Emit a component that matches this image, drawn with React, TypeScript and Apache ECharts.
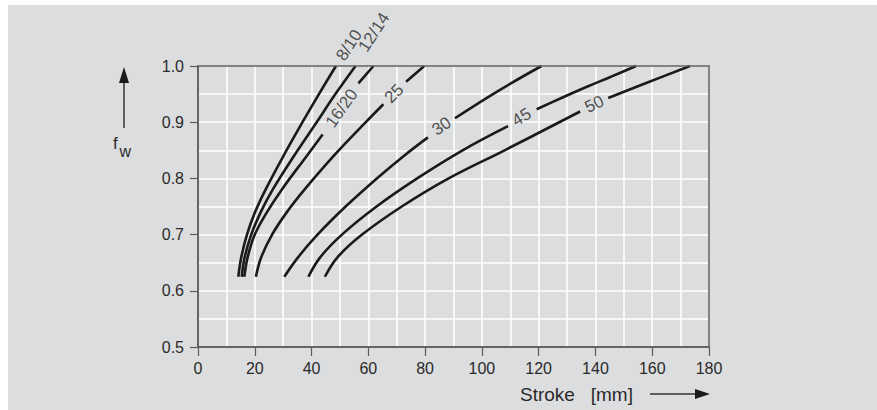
import React, { useEffect, useRef } from 'react';
import * as echarts from 'echarts';

// Stroke [mm] vs f_w
const curve8_10 = [[14.2, 0.625], [15.25, 0.66], [17.25, 0.7], [20.1, 0.74], [23.8, 0.78], [30.1, 0.84], [36.8, 0.9], [42.6, 0.95], [48.6, 1.0]];
const curve12_14 = [[15.4, 0.625], [16.45, 0.66], [18.75, 0.7], [22.1, 0.74], [26.3, 0.78], [33.8, 0.84], [41.8, 0.9], [48.4, 0.95], [55.5, 1.0]];
const curve16_20Low = [[16.3, 0.625], [17.5, 0.66], [20.0, 0.7], [24.3, 0.74], [29.5, 0.78], [38.3, 0.84], [43.9, 0.878]];
const curve16_20High = [[56.5, 0.969], [61.8, 1.0]];
const curve25Low = [[20.4, 0.625], [22.3, 0.66], [26.1, 0.7], [31.3, 0.74], [37.5, 0.78], [47.8, 0.84], [59.1, 0.9], [65.3, 0.932]];
const curve25High = [[73.3, 0.972], [79.7, 1.0]];
const curve30Low = [[30.4, 0.625], [35.3, 0.66], [42.1, 0.7], [52, 0.75], [63, 0.8], [72.5, 0.84], [81, 0.873]];
const curve30High = [[90.5, 0.907], [105.5, 0.955], [121, 1.0]];
const curve45Low = [[38.9, 0.625], [43.1, 0.66], [50.7, 0.7], [62.9, 0.75], [77.2, 0.8], [93.2, 0.85], [109.2, 0.893]];
const curve45High = [[119.3, 0.923], [128, 0.943], [137, 0.963], [145.5, 0.981], [154.3, 1.0]];
const curve50Low = [[44.7, 0.625], [49.2, 0.66], [57.8, 0.7], [71.8, 0.75], [88.3, 0.8], [108, 0.85], [134.6, 0.919]];
const curve50High = [[144.5, 0.943], [159, 0.972], [173.3, 1.0]];

// curve labels and where they sit (data coordinates) with their slope
const labelNames = ['8/10', '12/14', '16/20', '25', '30', '45', '50'];
const labelX = [53.2, 62.0, 50.6, 69.1, 85.8, 114, 139.6];
const labelY = [1.037, 1.06, 0.925, 0.951, 0.893, 0.909, 0.932];
const labelAngle = [57, 57, 55, 45, 35, 31, 26];

const segments = [
  curve8_10, curve12_14, curve16_20Low, curve16_20High, curve25Low, curve25High,
  curve30Low, curve30High, curve45Low, curve45High, curve50Low, curve50High,
];

const xMin = 0, xMax = 180, xStep = 20;
const yMin = 0.5, yMax = 1.0, yStep = 0.1;

export default function App() {
  const ref = useRef<HTMLDivElement>(null);
  useEffect(() => {
    if (!ref.current) return;
    const chart = echarts.init(ref.current, null, { renderer: 'svg' });
    const font = '"Liberation Sans", Arial, Helvetica, sans-serif';
    const axisColor = '#5c5c5c';
    const textColor = '#2a2a2a';
    const gridL = 198, gridT = 66, gridW = 511, gridH = 281;

    const lineSeries = segments.map((seg) => ({
      type: 'line',
      data: seg,
      symbol: 'none',
      showSymbol: false,
      smooth: 0.4,
      clip: false,
      silent: true,
      z: 3,
      lineStyle: { color: '#1a1a1a', width: 2.6, cap: 'butt' },
    }));

    const labelSeries = {
      type: 'scatter',
      clip: false,
      silent: true,
      symbol: 'circle',
      symbolSize: 1,
      itemStyle: { color: 'rgba(0,0,0,0)' },
      z: 4,
      data: labelNames.map((n, i) => ({
        name: n,
        value: [labelX[i], labelY[i]],
        label: {
          show: true,
          position: 'inside',
          formatter: n,
          rotate: labelAngle[i],
          fontSize: 17,
          color: textColor,
          fontFamily: font,
        },
      })),
    };

    const option: any = {
      animation: false,
      backgroundColor: '#dcdddf',
      grid: { left: gridL, top: gridT, width: gridW, height: gridH, containLabel: false },
      xAxis: {
        type: 'value',
        min: xMin,
        max: xMax,
        interval: xStep,
        axisLine: { show: true, lineStyle: { color: axisColor, width: 1.5 } },
        axisTick: { show: true, inside: false, length: 9, lineStyle: { color: axisColor, width: 1.2 } },
        axisLabel: { fontSize: 16, color: textColor, fontFamily: font, margin: 13 },
        splitLine: { show: true, lineStyle: { color: '#ffffff', width: 1.5 } },
        minorTick: { show: false, splitNumber: 2 },
        minorSplitLine: { show: true, lineStyle: { color: '#ffffff', width: 1.5 } },
      },
      yAxis: {
        type: 'value',
        min: yMin,
        max: yMax,
        interval: yStep,
        axisLine: { show: true, lineStyle: { color: axisColor, width: 1.5 } },
        axisTick: { show: true, inside: false, length: 8, lineStyle: { color: axisColor, width: 1.2 } },
        axisLabel: { fontSize: 16, color: textColor, fontFamily: font, margin: 14, formatter: (v: number) => v.toFixed(1) },
        splitLine: { show: true, lineStyle: { color: '#ffffff', width: 1.5 } },
        minorTick: { show: false, splitNumber: 2 },
        minorSplitLine: { show: true, lineStyle: { color: '#ffffff', width: 1.5 } },
      },
      graphic: [
        { type: 'rect', silent: true, z: 100, shape: { x: 0, y: 0, width: 8, height: 410 }, style: { fill: '#ffffff' } },
        { type: 'rect', silent: true, z: 100, shape: { x: 0, y: 0, width: 877, height: 5 }, style: { fill: '#ffffff' } },
        { type: 'rect', silent: true, z: 10, shape: { x: gridL, y: gridT, width: gridW, height: gridH }, style: { fill: 'none', stroke: axisColor, lineWidth: 1.5 } },
        // f_w label with arrow
        { type: 'line', silent: true, z: 10, shape: { x1: 124, y1: 128, x2: 124, y2: 80 }, style: { stroke: '#333', lineWidth: 1.5 } },
        { type: 'polygon', silent: true, z: 10, shape: { points: [[124, 67], [119, 83], [129, 83]] }, style: { fill: '#1a1a1a' } },
        { type: 'text', silent: true, z: 10, x: 113, y: 135, style: { text: 'f', fontSize: 17, fill: textColor, fontFamily: font } },
        { type: 'text', silent: true, z: 10, x: 119.5, y: 143, style: { text: 'w', fontSize: 16, fill: textColor, fontFamily: font } },
        // Stroke [mm] label with arrow
        { type: 'text', silent: true, z: 10, x: 520, y: 385, style: { text: 'Stroke   [mm]', fontSize: 19, fill: textColor, fontFamily: font } },
        { type: 'line', silent: true, z: 10, shape: { x1: 650, y1: 394, x2: 700, y2: 394 }, style: { stroke: '#333', lineWidth: 1.5 } },
        { type: 'polygon', silent: true, z: 10, shape: { points: [[710, 394], [695, 389], [695, 399]] }, style: { fill: '#1a1a1a' } },
      ],
      series: [...lineSeries, labelSeries],
    };
    chart.setOption(option);
    return () => chart.dispose();
  }, []);
  return <div ref={ref} style={{ position: 'absolute', left: 0, top: 0, width: 877, height: 410 }} />;
}
